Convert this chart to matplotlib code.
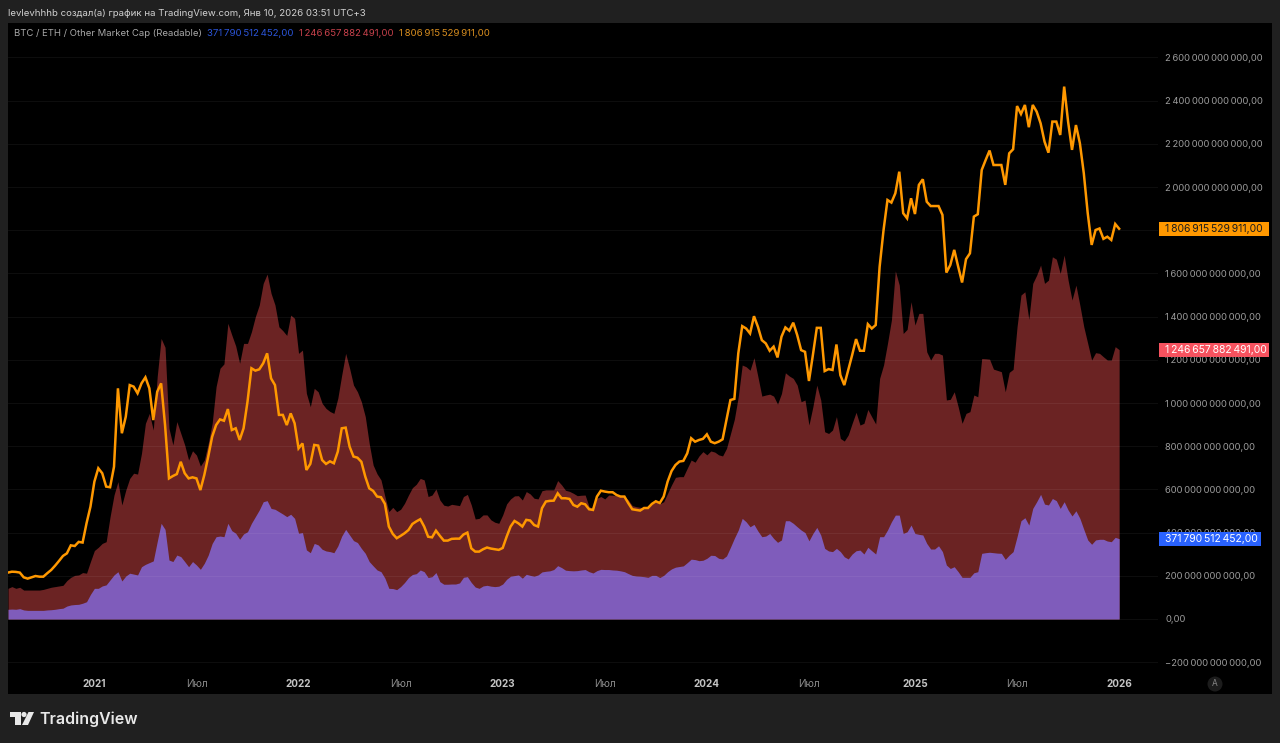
import matplotlib
matplotlib.use("Agg")
import numpy as np
import pandas as pd
import matplotlib.pyplot as plt
from matplotlib.patches import Rectangle, Polygon, Circle
from matplotlib.transforms import blended_transform_factory

plt.rcParams["font.family"] = ["Inter", "DejaVu Sans"]

W, H = 1280, 743
BG = "#202020"

# Weekly values, billions of USD
other_cap = [
    215, 219, 218, 215, 193, 187, 193, 199, 196, 196, 212, 227, 247, 269, 292, 304, 341, 338, 357, 354,
    443, 520, 636, 698, 675, 613, 610, 705, 1068, 860, 937, 1083, 1076, 1045, 1091, 1119, 1068, 921, 1052, 1091,
    898, 651, 662, 671, 728, 675, 651, 656, 651, 597, 667, 752, 844, 898, 924, 918, 972, 875, 883, 829,
    883, 1006, 1161, 1150, 1156, 1184, 1230, 1114, 1083, 945, 945, 898, 952, 906, 790, 813, 690, 718, 806, 803,
    736, 718, 730, 721, 775, 883, 886, 798, 752, 747, 728, 659, 605,
    593, 567, 564, 533, 428, 394, 374, 385, 397, 412, 440, 452, 462, 428, 381, 378, 409, 385, 363, 363,
    371, 372, 372, 391, 400, 327, 312, 312, 323, 331, 326, 323, 320, 329, 381, 428, 454, 443, 428, 459,
    456, 435, 428, 513, 544, 547, 548, 582, 559, 559, 556, 528, 520, 536, 531, 508, 505, 567, 594, 590,
    587, 587, 574, 567, 567, 536, 508, 505, 502, 514, 514, 533, 545, 537, 567, 636, 685, 713, 729, 732,
    767, 837, 821, 829, 834, 855, 821, 814, 821, 832, 922, 1014, 1019, 1230,
    1356, 1345, 1322, 1402, 1353, 1291, 1276, 1242, 1261, 1211, 1307, 1350, 1335, 1372, 1315, 1245, 1237, 1102,
    1222, 1348, 1348, 1148, 1157, 1153, 1271, 1129, 1083, 1152, 1222, 1296, 1242, 1242, 1365, 1345, 1361, 1631,
    1801, 1940, 1928, 1971, 2071, 1879, 1855, 1948, 1875, 2010, 2036, 1932, 1912, 1912, 1912, 1871, 1604, 1639,
    1709, 1632, 1558, 1666, 1693, 1863, 1874, 2079, 2125, 2169, 2102, 2102, 2102, 2010, 2156, 2175, 2375, 2338,
    2380, 2277, 2380, 2349, 2295, 2210, 2159, 2303, 2303, 2241, 2465, 2303, 2172, 2287, 2203, 2064, 1879, 1732,
    1801, 1808, 1760, 1770, 1755, 1829, 1807,
]
eth_cap = [
    142, 150, 142, 147, 134, 134, 134, 134, 134, 137, 142, 147, 150, 153, 156, 178, 193, 202, 204, 215,
    212, 266, 317, 332, 350, 358, 474, 574, 636, 528, 597, 651, 675, 671, 767, 906, 952, 875, 1122, 1299,
    1258, 883, 806, 914, 860, 806, 736, 779, 759, 708, 736, 813, 906, 1076, 1161, 1181, 1369, 1315, 1264, 1184,
    1276, 1276, 1330, 1400, 1454, 1554, 1597, 1508, 1454, 1353, 1335, 1313, 1407, 1392, 1230, 1245, 1045, 983, 1068, 1052,
    999, 975, 961, 952, 1022, 1130, 1230, 1161, 1083, 1052, 1006, 937, 813,
    713, 672, 644, 567, 497, 517, 497, 508, 536, 574, 608, 624, 651, 644, 567, 574, 602, 551, 527, 523,
    531, 528, 525, 567, 577, 528, 463, 466, 482, 482, 459, 448, 443, 482, 533, 556, 570, 571, 551, 590,
    579, 559, 556, 594, 598, 598, 598, 641, 621, 596, 591, 582, 571, 573, 574, 520, 511, 559, 567, 556,
    574, 573, 570, 567, 567, 551, 525, 520, 517, 516, 513, 533, 545, 533, 543, 582, 621, 656, 659, 659,
    698, 736, 726, 755, 775, 760, 778, 773, 760, 755, 790, 857, 925, 1030,
    1176, 1168, 1152, 1210, 1122, 1032, 1037, 1041, 1032, 995, 1044, 1140, 1125, 1114, 1083, 1006, 1014, 898,
    983, 1083, 1014, 867, 859, 875, 937, 836, 824, 852, 906, 957, 898, 906, 970, 936, 903, 1114,
    1176, 1276, 1384, 1612, 1546, 1322, 1341, 1469, 1361, 1415, 1415, 1237, 1199, 1230, 1230, 1222, 1014, 1017,
    1052, 983, 906, 952, 960, 1037, 1029, 1206, 1205, 1203, 1157, 1151, 1145, 1052, 1142, 1156, 1353, 1500,
    1515, 1387, 1554, 1592, 1639, 1554, 1569, 1677, 1666, 1600, 1685, 1569, 1477, 1546, 1453, 1353, 1276, 1199,
    1233, 1230, 1214, 1199, 1199, 1261, 1247,
]
btc_cap = [
    45, 46, 45, 48, 42, 40, 40, 40, 40, 40, 42, 43, 45, 48, 50, 60, 65, 67, 68, 73,
    80, 114, 142, 142, 153, 158, 181, 204, 219, 176, 199, 212, 208, 204, 242, 253, 261, 269, 358, 443,
    415, 273, 266, 296, 289, 266, 242, 266, 250, 230, 258, 296, 350, 381, 384, 381, 443, 409, 397, 369,
    394, 404, 443, 474, 505, 543, 548, 512, 508, 497, 486, 474, 485, 466, 397, 400, 320, 307, 350, 343,
    323, 315, 312, 307, 338, 384, 415, 389, 363, 354, 327, 304, 266,
    246, 227, 219, 189, 142, 141, 136, 150, 169, 192, 206, 210, 227, 219, 192, 196, 215, 173, 161, 161,
    162, 162, 167, 193, 196, 169, 148, 142, 153, 156, 152, 150, 152, 162, 184, 198, 201, 204, 189, 207,
    202, 198, 204, 218, 221, 223, 229, 247, 238, 226, 224, 223, 224, 227, 229, 219, 213, 224, 230, 229,
    229, 227, 226, 223, 219, 210, 202, 199, 198, 196, 193, 202, 202, 192, 202, 219, 232, 240, 243, 246,
    261, 277, 275, 270, 272, 281, 295, 294, 281, 278, 292, 332, 374, 412,
    466, 450, 427, 438, 407, 381, 384, 396, 373, 355, 366, 455, 455, 443, 427, 412, 400, 362,
    396, 424, 389, 327, 315, 312, 327, 312, 288, 278, 301, 316, 319, 301, 332, 316, 301, 381,
    381, 412, 450, 481, 481, 396, 404, 435, 396, 392, 389, 350, 324, 324, 339, 312, 250, 234,
    242, 219, 193, 193, 193, 214, 219, 304, 307, 309, 307, 305, 304, 276, 296, 312, 381, 455,
    469, 435, 512, 543, 577, 532, 528, 558, 548, 512, 543, 505, 477, 501, 466, 415, 366, 346,
    366, 369, 369, 361, 358, 378, 372,
]
assert len(other_cap) == len(eth_cap) == len(btc_cap), (len(other_cap), len(eth_cap), len(btc_cap))

dates = pd.date_range("2020-08-03", periods=len(btc_cap), freq="7D")

y_ticks = [-200, 0, 200, 400, 600, 800, 1000, 1200, 1400, 1600, 1800, 2000, 2200, 2400, 2600]
x_tick_dates = pd.to_datetime(["2021-01-04", "2021-07-05", "2022-01-03", "2022-07-04", "2023-01-02", "2023-07-03",
                               "2024-01-01", "2024-07-01", "2025-01-06", "2025-07-07", "2026-01-05"])
x_tick_labels = ["2021", "Июл", "2022", "Июл", "2023", "Июл", "2024", "Июл", "2025", "Июл", "2026"]

btc_last = "371\u202f790\u202f512\u202f452,00"
eth_last = "1\u202f246\u202f657\u202f882\u202f491,00"
other_last = "1\u202f806\u202f915\u202f529\u202f911,00"
last_values = [371.79, 1246.66, 1806.92]


def big_number(v):
    return f"{v * 10**9:,d}".replace("-", "\u2212").replace(",", "\u202f") + ",00"


fig = plt.figure(figsize=(W / 100, H / 100), dpi=100, facecolor=BG)


def fx(px):
    return px / W


def fy(py):
    return 1 - py / H


# black chart panel, behind everything
fig.patches.append(Rectangle((fx(8), fy(694)), (1272 - 8) / W, (694 - 22.5) / H, transform=fig.transFigure,
                             facecolor="black", edgecolor="none", zorder=-5))

# axes run from pixel x 8 to 1158, pixel y 23 to 674
ax = fig.add_axes([fx(8), fy(674), (1158 - 8) / W, (674 - 23) / H])
ax.patch.set_alpha(0)
for s in ax.spines.values():
    s.set_visible(False)

ax.fill_between(dates, 0, eth_cap, color="#6b2323", lw=0, zorder=1)
ax.fill_between(dates, 0, btc_cap, color="#7f5cbb", lw=0, zorder=1.5)
ax.plot(dates, other_cap, color="#ff9800", lw=1.8, solid_joinstyle="miter", zorder=3)

ax.set_xlim(dates[0], dates[0] + pd.Timedelta(weeks=292.9))
ax.set_ylim((619 - 674) * 4.63, (619 - 23) * 4.63)

ax.set_axisbelow(False)
ax.grid(axis="y", color="white", alpha=0.055, lw=0.7, zorder=2)
ax.set_yticks(y_ticks)
ax.set_yticklabels([big_number(v) for v in y_ticks], fontsize=6.75, color="#9c9c9c", ha="left")
ax.yaxis.tick_right()
ax.tick_params(axis="y", length=0, pad=5.2)

ax.set_xticks(x_tick_dates)
ax.set_xticklabels(x_tick_labels, fontsize=7.2)
ax.tick_params(axis="x", length=0, pad=3.5)
for lab, txt in zip(ax.get_xticklabels(), x_tick_labels):
    if txt == "Июл":
        lab.set_color("#8c8c8c")
    else:
        lab.set_color("#c4c4c4")
        lab.set_fontweight("bold")

# last value badges on the price scale, drawn over the tick labels
badge_colors = ["#2962ff", "#f7525f", "#ff9800"]
badge_text = ["#ffffff", "#ffffff", "#1c1c1c"]
badge_right = [1261, 1269, 1269]
badge_trans = blended_transform_factory(ax.transAxes, ax.transData)
for val, s, col, tc, right in zip(last_values, [btc_last, eth_last, other_last], badge_colors, badge_text, badge_right):
    rect = Rectangle((1.0009, val - 32), (right - 1159) / 1150, 64, transform=badge_trans, fc=col, ec="none",
                     clip_on=False, zorder=5)
    ax.add_patch(rect)
    ax.annotate(s, xy=(1, val), xycoords=("axes fraction", "data"), xytext=(5.2, 0), textcoords="offset points",
                fontsize=7.5, color=tc, va="center", ha="left", zorder=6, annotation_clip=False)

# header and legend
fig.text(fx(8), fy(13), "levlevhhhb создал(а) график на TradingView.com, Янв 10, 2026 03:51 UTC+3",
         fontsize=6.93, color="#d0d0d0", va="center")
fig.text(fx(14), fy(34), "BTC / ETH / Other Market Cap (Readable)", fontsize=6.85, color="#a8a8a8", va="center")
fig.text(fx(207), fy(34), btc_last, fontsize=6.95, color="#2b55d9", va="center")
fig.text(fx(299), fy(34), eth_last, fontsize=6.9, color="#c9424c", va="center")
fig.text(fx(399), fy(34), other_last, fontsize=6.95, color="#d98e1f", va="center")

# auto scale button
overlay = fig.add_axes([0, 0, 1, 1])
overlay.set_xlim(0, W)
overlay.set_ylim(H, 0)
overlay.axis("off")
overlay.patch.set_alpha(0)
overlay.add_patch(Circle((1215, 684), 7.5, fc="#1c1c1c", ec="none"))
overlay.text(1215, 684, "A", fontsize=6, color="#8a8a8a", ha="center", va="center")

# TradingView logo
logo = "#e8e8e8"
overlay.add_patch(Polygon([(9.5, 712), (20.5, 712), (20.5, 725), (15, 725), (15, 717), (9.5, 717)], fc=logo, ec="none"))
overlay.add_patch(Circle((24, 714.5), 2.6, fc=logo, ec="none"))
overlay.add_patch(Polygon([(28.5, 712), (34, 712), (28, 725), (22, 725)], fc=logo, ec="none"))
overlay.text(39, 719, "TradingView", fontsize=11.45, fontweight="semibold", color=logo, va="center", ha="left")

fig.savefig("out.png", dpi=100, facecolor=BG)
